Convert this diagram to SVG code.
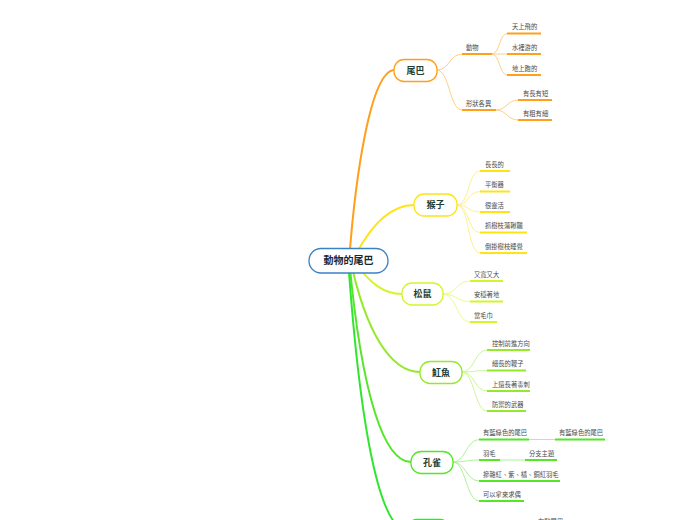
<svg xmlns="http://www.w3.org/2000/svg" width="696" height="520" viewBox="0 0 696 520">
<style>
.main{fill:none;stroke-width:2;stroke-linecap:round}
.sub{fill:none;stroke-width:1;stroke-linecap:round}
.ul{stroke-width:2;stroke-linecap:butt}
.leaf{font-family:"Noto Sans CJK TC","Noto Sans CJK SC",sans-serif;font-size:6.3px;fill:#4a4a4a}
.nt{font-family:"Noto Sans CJK TC","Noto Sans CJK SC",sans-serif;font-size:9px;font-weight:bold;fill:#1d4032;text-anchor:middle}
.node{fill:#ffffff;stroke-width:1.3}
.c1{stroke:#ff9f1a}.c1s{stroke:#ffcf85}
.c2{stroke:#ffe414}.c2s{stroke:#fff08a}
.c3{stroke:#d4f52a}.c3s{stroke:#eafc90}
.c4{stroke:#94ea2a}.c4s{stroke:#cdf59a}
.c5{stroke:#55e628}.c5s{stroke:#aef295}
.c6{stroke:#2ee62e}
</style>
<rect width="696" height="520" fill="#ffffff"/>
<g id="connectors">
<path class="main c1" d="M349,262 C355,180 370,72 394,70"/>
<path class="main c2" d="M352,262 C370,225 390,205 414,205"/>
<path class="main c3" d="M352,258 C370,285 385,294 402,294"/>
<path class="main c4" d="M350,258 C365,330 390,372 420,372"/>
<path class="main c5" d="M349,258 C362,400 385,462 411,462"/>
<path class="main c6" d="M348,258 C360,430 380,530 407,530"/>
<!-- 尾巴 -->
<path class="sub c1s" d="M437,70 C450,70 449,54 462,54"/>
<path class="sub c1s" d="M437,70 C450,70 449,110 462,110"/>
<path class="sub c1s" d="M492,54 C500,54 499,33.5 507,33.5"/>
<path class="sub c1s" d="M492,54 L507,54"/>
<path class="sub c1s" d="M492,54 C500,54 499,75 507,75"/>
<path class="sub c1s" d="M496,110 C507,110 507,100 518,100"/>
<path class="sub c1s" d="M496,110 C507,110 507,120 518,120"/>
<!-- 猴子 -->
<path class="sub c2s" d="M457,205 C470,205 467,171 480,171"/>
<path class="sub c2s" d="M457,205 C470,205 467,191.5 480,191.5"/>
<path class="sub c2s" d="M457,205 C470,205 467,212 480,212"/>
<path class="sub c2s" d="M457,205 C470,205 467,232.5 480,232.5"/>
<path class="sub c2s" d="M457,205 C470,205 467,253 480,253"/>
<!-- 松鼠 -->
<path class="sub c3s" d="M443,294 C457,294 456,281 470,281"/>
<path class="sub c3s" d="M443,294 C457,294 456,301.5 470,301.5"/>
<path class="sub c3s" d="M443,294 C457,294 456,322 470,322"/>
<!-- 魟魚 -->
<path class="sub c4s" d="M462,372 C475,372 474,350 487,350"/>
<path class="sub c4s" d="M462,372 C475,372 474,370.5 487,370.5"/>
<path class="sub c4s" d="M462,372 C475,372 474,391 487,391"/>
<path class="sub c4s" d="M462,372 C475,372 474,411 487,411"/>
<!-- 孔雀 -->
<path class="sub c5s" d="M453,462 C466,462 466,439.5 479,439.5"/>
<path class="sub c5s" d="M453,462 C466,462 466,460 479,460"/>
<path class="sub c5s" d="M453,462 C466,462 466,481 479,481"/>
<path class="sub c5s" d="M453,462 C466,462 466,501 479,501"/>
<path class="sub c5s" d="M529,439.5 L555,439.5"/>
<path class="sub c5s" d="M500,460 L525,460"/>
</g>
<g id="center">
<rect class="node" x="309" y="248.5" width="79" height="24.5" rx="12" stroke="#3b82c4" stroke-width="1.4"/>
<text x="348.5" y="264.3" font-family="'Noto Sans CJK TC','Noto Sans CJK SC',sans-serif" font-size="10px" font-weight="bold" fill="#1a2633" text-anchor="middle">動物的尾巴</text>
</g>
<g id="n-weiba">
<rect class="node c1" x="394" y="59.5" width="43" height="22" rx="10"/>
<text class="nt" x="415.5" y="73.5">尾巴</text>
</g>
<g id="n-dongwu">
<line class="ul c1" x1="462" y1="54" x2="492" y2="54"/><text class="leaf" x="466" y="49.5">動物</text>
<line class="ul c1" x1="507" y1="33.5" x2="541" y2="33.5"/><text class="leaf" x="512" y="29">天上飛的</text>
<line class="ul c1" x1="507" y1="54" x2="541" y2="54"/><text class="leaf" x="512" y="49.5">水裡游的</text>
<line class="ul c1" x1="507" y1="75" x2="541" y2="75"/><text class="leaf" x="512" y="70.5">地上跑的</text>
</g>
<g id="n-xingzhuang">
<line class="ul c1" x1="462" y1="110" x2="496" y2="110"/><text class="leaf" x="466" y="105.5">形狀各異</text>
<line class="ul c1" x1="518" y1="100" x2="552" y2="100"/><text class="leaf" x="523" y="95.5">有長有短</text>
<line class="ul c1" x1="518" y1="120" x2="552" y2="120"/><text class="leaf" x="523" y="115.5">有粗有細</text>
</g>
<g id="n-houzi">
<rect class="node c2" x="414" y="194" width="43" height="22" rx="10"/>
<text class="nt" x="435.5" y="208">猴子</text>
<line class="ul c2" x1="480" y1="171" x2="510" y2="171"/><text class="leaf" x="485" y="166.5">長長的</text>
<line class="ul c2" x1="480" y1="191.5" x2="510" y2="191.5"/><text class="leaf" x="485" y="187">平衡器</text>
<line class="ul c2" x1="480" y1="212" x2="510" y2="212"/><text class="leaf" x="485" y="207.5">很靈活</text>
<line class="ul c2" x1="480" y1="232.5" x2="527" y2="232.5"/><text class="leaf" x="485" y="228">抓樹枝蕩鞦韆</text>
<line class="ul c2" x1="480" y1="253" x2="527" y2="253"/><text class="leaf" x="485" y="248.5">倒掛樹枝睡覺</text>
</g>
<g id="n-songshu">
<rect class="node c3" x="402" y="283" width="41" height="22" rx="10"/>
<text class="nt" x="422.5" y="297">松鼠</text>
<line class="ul c3" x1="470" y1="281" x2="503" y2="281"/><text class="leaf" x="474" y="276.5">又寬又大</text>
<line class="ul c3" x1="470" y1="301.5" x2="503" y2="301.5"/><text class="leaf" x="474" y="297">安穩著地</text>
<line class="ul c3" x1="470" y1="322" x2="497" y2="322"/><text class="leaf" x="474" y="317.5">當毛巾</text>
</g>
<g id="n-hongyu">
<rect class="node c4" x="420" y="361.5" width="42" height="22" rx="10"/>
<text class="nt" x="441" y="375.5">魟魚</text>
<line class="ul c4" x1="487" y1="350" x2="530" y2="350"/><text class="leaf" x="492" y="345.5">控制前進方向</text>
<line class="ul c4" x1="487" y1="370.5" x2="526" y2="370.5"/><text class="leaf" x="492" y="366">細長的鞭子</text>
<line class="ul c4" x1="487" y1="391" x2="530" y2="391"/><text class="leaf" x="492" y="386.5">上還長著毒刺</text>
<line class="ul c4" x1="487" y1="411" x2="526" y2="411"/><text class="leaf" x="492" y="406.5">防禦的武器</text>
</g>
<g id="n-kongque">
<rect class="node c5" x="411" y="451.5" width="42" height="22" rx="10"/>
<text class="nt" x="432" y="465.5">孔雀</text>
<line class="ul c5" x1="479" y1="439.5" x2="529" y2="439.5"/><text class="leaf" x="483" y="435">有藍綠色的尾巴</text>
<line class="ul c5" x1="555" y1="439.5" x2="605" y2="439.5"/><text class="leaf" x="559" y="435">有藍綠色的尾巴</text>
<line class="ul c5" x1="479" y1="460" x2="500" y2="460"/><text class="leaf" x="483" y="455.5">羽毛</text>
<line class="ul c5" x1="525" y1="460" x2="557" y2="460"/><text class="leaf" x="529" y="455.5">分支主題</text>
<line class="ul c5" x1="479" y1="481" x2="560" y2="481"/><text class="leaf" x="483" y="476.5">摻雜紅、紫、橘、銅紅羽毛</text>
<line class="ul c5" x1="479" y1="501" x2="524" y2="501"/><text class="leaf" x="483" y="496.5">可以拿來求偶</text>
</g>
<g id="n-bottom">
<rect class="node c6" x="407" y="519.5" width="43" height="22" rx="10"/>
<text class="leaf" x="538" y="523.5">有點尾巴</text>
</g>
</svg>
